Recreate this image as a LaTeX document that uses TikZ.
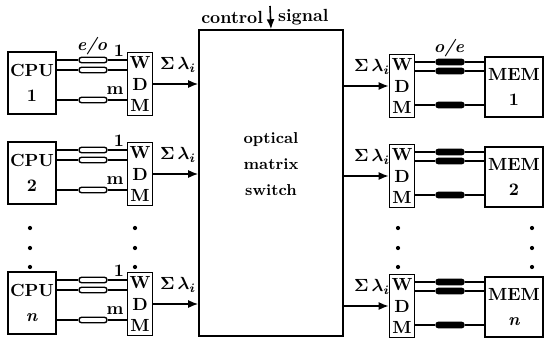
\documentclass[tikz,border=0pt]{standalone}
\usepackage{amsmath,bm}
\usetikzlibrary{arrows.meta,positioning}
\tikzset{bx/.style={draw,line width=.9pt,inner sep=0pt,font=\bfseries},
 cpu/.style={bx,minimum width=.96cm,minimum height=1.24cm,align=center},
 mem/.style={cpu,minimum width=1.16cm,minimum height=1.2cm},
 wdm/.style={bx,minimum width=.5cm,minimum height=1.26cm,align=center},
 eo/.style={draw,line width=.8pt,fill=white,rounded corners=1.5pt,minimum width=.56cm,minimum height=.11cm,inner sep=0pt},
 oe/.style={eo,fill=black},
 wire/.style={line width=.9pt},
 arr/.style={wire,-{Latex[length=2mm,width=1.6mm]}},
 lbl/.style={font=\bfseries,inner sep=1pt}}
\begin{document}
\begin{tikzpicture}[x=.02cm,y=-.02cm]
\useasboundingbox (0,0) rectangle (547,341);
\node[bx,minimum width=2.88cm,minimum height=6.12cm] (sw) at (271,183) {};
\node[font=\bfseries\small,align=center] (swt) at (271,164) {optical\\[4pt]matrix\\[4pt]switch};
\coordinate (ctl) at (270,6);
\draw[arr] (ctl) -- (sw.north);
\node[lbl,anchor=east] (ctlt) at (265,17) {control};
\node[lbl,anchor=west] (sigt) at (276,17) {signal};
\node[lbl,font=\bfseries\itshape] (eot) at (92,46) {e/o};
\node[lbl,font=\bfseries\itshape] (oet) at (449,48) {o/e};
\foreach \r/\t/\y in {1/1/52,2/2/142,n/\textit{n}/272}{
  \node[cpu] (cpu\r) at (32,\y+31) {CPU\\[2pt]\t};
  \node[wdm] (wl\r) at (140,\y+32) {W\\D\\M};
  \node[wdm] (wr\r) at (402,\y+34) {W\\D\\M};
  \node[mem] (mem\r) at (514,\y+35) {MEM\\[2pt]\t};
  \foreach \k/\d in {a/8,b/18,c/48}{
    \node[eo] (l\r\k) at (93,\y+\d) {};
    \draw[wire] (cpu\r.east|-l\r\k) -- (l\r\k.west) (l\r\k.east) -- (wl\r.west|-l\r\k);}
  \foreach \k/\d in {a/10,b/19,c/53}{
    \node[oe] (r\r\k) at (450,\y+\d) {};
    \draw[wire] (wr\r.east|-r\r\k) -- (r\r\k.west) (r\r\k.east) -- (mem\r.west|-r\r\k);}
  \node[lbl] (one\r) at (119,\y-1) {1};
  \node[lbl] (m\r) at (115,\y+39) {m};
  \node[lbl] (sl\r) at (178,\y+13) {$\bm{\Sigma\,\lambda_i}$};
  \node[lbl] (sr\r) at (372,\y+15) {$\bm{\Sigma\,\lambda_i}$};
  \draw[arr] (wl\r.east) -- (wl\r.east-|sw.west);
  \draw[arr] (sw.east|-wr\r.west) -- (wr\r.west);
}
\foreach \xx in {30,135,398,532}
  \foreach \yy in {228,248,267}
    \fill (\xx,\yy) circle (1.2pt);
\end{tikzpicture}
\end{document}
